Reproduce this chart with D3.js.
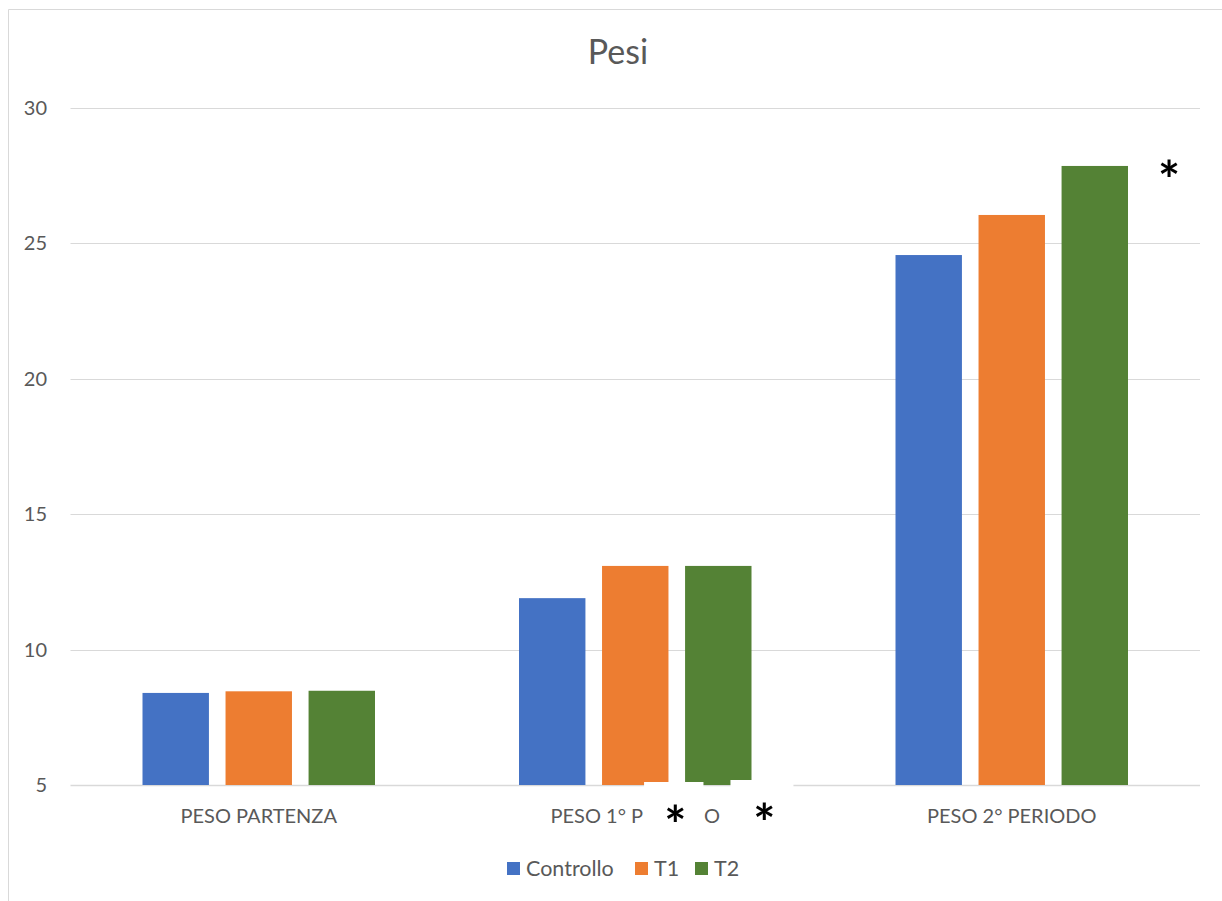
<!DOCTYPE html>
<html>
<head>
<meta charset="utf-8">
<script src="https://cdn.jsdelivr.net/npm/d3@7"></script>
<style>
  html, body { margin: 0; padding: 0; background: #fff; }
  svg { display: block; }
  text { font-family: Lato, "Open Sans", sans-serif; }
</style>
</head>
<body>
<script>
// Chart data
const categories = ["PESO PARTENZA", "PESO 1° PERIODO", "PESO 2° PERIODO"];
const series = ["Controllo", "T1", "T2"];
const controllo = [8.40, 11.90, 24.57];
const t1 = [8.46, 13.09, 26.05];
const t2 = [8.48, 13.09, 27.86];
const yTicks = [5, 10, 15, 20, 25, 30];
const colors = ["#4472C4", "#ED7D31", "#548235"];
const title = "Pesi";

const values = [controllo, t1, t2];
const W = 1222, H = 901;
const margin = { left: 70.5, right: 22, top: 108, bottom: 116 };

const svg = d3.select("body").append("svg")
  .attr("width", W).attr("height", H);

// chart frame (left and top edges)
svg.append("path")
  .attr("d", `M8.5,${H} V9.5 H${W}`)
  .attr("fill", "none").attr("stroke", "#d9d9d9").attr("stroke-width", 1);

const y = d3.scaleLinear().domain([5, 30]).range([H - margin.bottom, margin.top]);
const x0 = d3.scaleBand().domain(categories).range([margin.left, W - margin.right]);
const x1 = d3.scaleBand().domain(series)
  .range([72, x0.bandwidth() - 72]).paddingInner(0.2);

// gridlines
svg.append("g").selectAll("line").data(yTicks).join("line")
  .attr("x1", margin.left).attr("x2", W - margin.right)
  .attr("y1", d => Math.round(y(d)) + 0.5).attr("y2", d => Math.round(y(d)) + 0.5)
  .attr("stroke", "#d9d9d9").attr("stroke-width", d => d === 5 ? 1.5 : 1);

// y tick labels
svg.append("g").selectAll("text").data(yTicks).join("text")
  .attr("x", 47).attr("y", d => y(d) + 7)
  .attr("text-anchor", "end").attr("fill", "#595959")
  .attr("font-size", 20).text(d => d);

// bars
const groups = svg.append("g").selectAll("g").data(categories).join("g")
  .attr("transform", d => `translate(${x0(d)},0)`);
groups.selectAll("rect")
  .data((c, i) => series.map((s, j) => ({ s, j, v: values[j][i] })))
  .join("rect")
  .attr("x", d => x1(d.s)).attr("width", x1.bandwidth())
  .attr("y", d => y(d.v)).attr("height", d => y(5) - y(d.v))
  .attr("fill", d => colors[d.j]);

// category labels
const labelY = y(5) + 38;
const catG = svg.append("g");
const catLabels = catG.selectAll("text").data(categories).join("text")
  .attr("x", d => x0(d) + x0.bandwidth() / 2).attr("y", labelY)
  .attr("text-anchor", "middle").attr("fill", "#595959")
  .attr("font-size", 20).text(d => d);

// the middle label is partly blanked out: only "PESO 1° P" and the final "O" stay visible
const midLabel = catLabels.filter((d, i) => i === 1);
const node = midLabel.node();
const txt = categories[1];
const startX = node.getStartPositionOfChar(0).x;
const cutFrom = node.getEndPositionOfChar(8).x + 1;
const cutTo = node.getStartPositionOfChar(txt.length - 1).x - 0.5;
midLabel.remove();
catG.append("text").attr("x", startX).attr("y", labelY)
  .attr("fill", "#595959").attr("font-size", 20).text(txt.slice(0, 9));
catG.append("text").attr("x", cutTo + 0.5).attr("y", labelY)
  .attr("fill", "#595959").attr("font-size", 20).text(txt.slice(-1));

// white patches over the bottom of the middle group's bars
svg.append("rect").attr("x", cutFrom).attr("y", y(5) - 3)
  .attr("width", cutTo - cutFrom).attr("height", 50).attr("fill", "#fff");
svg.append("rect").attr("x", cutTo + 27).attr("y", y(5) - 5)
  .attr("width", 63).attr("height", 50).attr("fill", "#fff");

// significance marks
const cMid = x0(categories[1]) + x0.bandwidth() / 2;
const star = (sx, cy) => svg.append("text")
  .attr("x", sx).attr("y", cy + 29).attr("text-anchor", "middle")
  .attr("font-family", "'Liberation Sans', Arial, sans-serif")
  .attr("font-weight", "bold").attr("font-size", 52).attr("fill", "#000")
  .text("*");
star(cMid + 40, 815);
star(cMid + 129, 813);
const last = x0(categories[2]);
star(last + x1("T2") + x1.bandwidth() + 41, y(t2[2]) + 4);

// title
svg.append("text").attr("x", 618).attr("y", 64)
  .attr("text-anchor", "middle").attr("fill", "#595959")
  .attr("font-size", 34).text(title);

// legend
const legendItems = [
  { s: series[0], x: 507 },
  { s: series[1], x: 635 },
  { s: series[2], x: 695 }
];
const lg = svg.append("g").selectAll("g").data(legendItems).join("g")
  .attr("transform", d => `translate(${d.x},862)`);
lg.append("rect").attr("width", 13).attr("height", 13)
  .attr("fill", (d, i) => colors[i]);
lg.append("text").attr("x", 19).attr("y", 14)
  .attr("fill", "#595959").attr("font-size", 21.5).text(d => d.s);
</script>
</body>
</html>
